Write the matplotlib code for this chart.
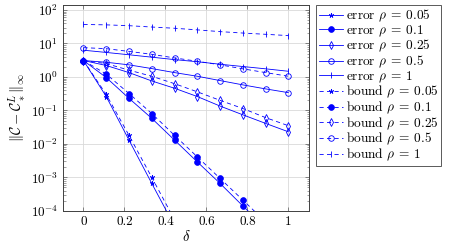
import numpy as np
import matplotlib
matplotlib.use('Agg')
import matplotlib.pyplot as plt
from matplotlib.ticker import FuncFormatter, LogLocator, NullFormatter

plt.rcParams['font.family'] = 'serif'
plt.rcParams['font.serif'] = ['cmr10', 'DejaVu Serif']
plt.rcParams['mathtext.fontset'] = 'cm'
plt.rcParams['axes.formatter.use_mathtext'] = True

# delta values (10 points, step 1/9)
delta = np.linspace(0, 1, 10)
rhos = ['0.05', '0.1', '0.25', '0.5', '1']

# error curves (values below 1e-4 are clipped away)
err_005 = [3.1, 0.26, 0.013, 6.6e-4, 3.5e-5, 1.9e-6, 1.0e-7, 5.5e-9, 3.0e-10, 1.6e-11]
err_01 = [3.1, 0.96, 0.23, 0.058, 0.013, 0.0029, 6.6e-4, 1.4e-4, 3.1e-5, 6.8e-6]
err_025 = [3.1, 2.2, 1.35, 0.76, 0.46, 0.26, 0.135, 0.074, 0.041, 0.023]
err_05 = [3.1, 2.75, 2.3, 1.78, 1.35, 1.05, 0.78, 0.58, 0.44, 0.34]
err_1 = [6.3, 5.4, 4.6, 3.9, 3.3, 2.85, 2.4, 2.05, 1.75, 1.48]

# bound curves
bnd_005 = [3.1, 0.3, 0.018, 1.0e-3, 5.4e-5, 2.9e-6, 1.6e-7, 8.5e-9, 4.6e-10, 2.5e-11]
bnd_01 = [3.1, 1.22, 0.32, 0.081, 0.018, 0.0041, 9.3e-4, 2.1e-4, 4.7e-5, 1.07e-5]
bnd_025 = [3.1, 2.5, 1.6, 1.05, 0.63, 0.36, 0.2, 0.114, 0.061, 0.035]
bnd_05 = [7.5, 7.0, 5.8, 4.75, 3.7, 2.95, 2.3, 1.75, 1.35, 1.05]
bnd_1 = [37, 36, 34, 31, 28.5, 25.5, 22.6, 20.5, 18.8, 17.2]

errors = [err_005, err_01, err_025, err_05, err_1]
bounds = [bnd_005, bnd_01, bnd_025, bnd_05, bnd_1]

# pgfplots-like marks: star, filled circle, open diamond, open circle, bar
marks = [
    dict(marker=(5, 2, 0), ms=3.6, mfc='blue', mew=0.5),
    dict(marker='o', ms=4.2, mfc='blue', mew=0.5),
    dict(marker='d', ms=3.8, mfc='none', mew=0.6),
    dict(marker='o', ms=4.0, mfc='none', mew=0.6),
    dict(marker='|', ms=4.2, mfc='blue', mew=0.6),
]

fig = plt.figure(figsize=(4.53, 2.49), dpi=100)
ax = fig.add_axes([0.139, 0.153, 0.543, 0.827])

for rho, y, mk in zip(rhos, errors, marks):
    ax.plot(delta, y, color='blue', lw=0.6, mec='blue',
            label='error $\\rho\\:=\\:%s$' % rho, **mk)
for rho, y, mk in zip(rhos, bounds, marks):
    ax.plot(delta, y, color='blue', lw=0.6, mec='blue', linestyle=(0, (5, 4)),
            label='bound $\\rho\\:=\\:%s$' % rho, **mk)

ax.set_yscale('log')
ax.set_xlim(-0.1, 1.1)
ax.set_ylim(1e-4, 10**2.15)
ax.set_xticks([0, 0.2, 0.4, 0.6, 0.8, 1])
ax.xaxis.set_major_formatter(FuncFormatter(lambda v, p: '%g' % v))
ax.yaxis.set_major_locator(LogLocator(base=10, numticks=10))
ax.yaxis.set_minor_locator(LogLocator(base=10, subs=np.arange(2, 10), numticks=20))
ax.yaxis.set_minor_formatter(NullFormatter())
ax.grid(True, which='major', color='0.85', lw=0.6)
ax.set_axisbelow(True)
ax.tick_params(which='both', direction='in', top=True, right=True, labelsize=9.5,
               color='0.35')
ax.tick_params(which='major', length=3, width=0.5)
ax.tick_params(which='minor', length=1.8, width=0.4)
for s in ax.spines.values():
    s.set_linewidth(0.7)
    s.set_color('0.25')

ax.set_xlabel('$\\delta$', fontsize=10.5, labelpad=1)
ax.set_ylabel('$\\|\\mathcal{C} - \\mathcal{C}_*^L\\|_\\infty$', fontsize=10.5, labelpad=2)

leg = ax.legend(loc='upper left', bbox_to_anchor=(1.03, 1.0), fontsize=9.6,
                handlelength=1.8, handletextpad=0.2, labelspacing=-0.05,
                borderpad=0.2, borderaxespad=0.0, fancybox=False,
                edgecolor='0.35', framealpha=1)
leg.get_frame().set_linewidth(0.7)

fig.savefig('out.png', dpi=100)
